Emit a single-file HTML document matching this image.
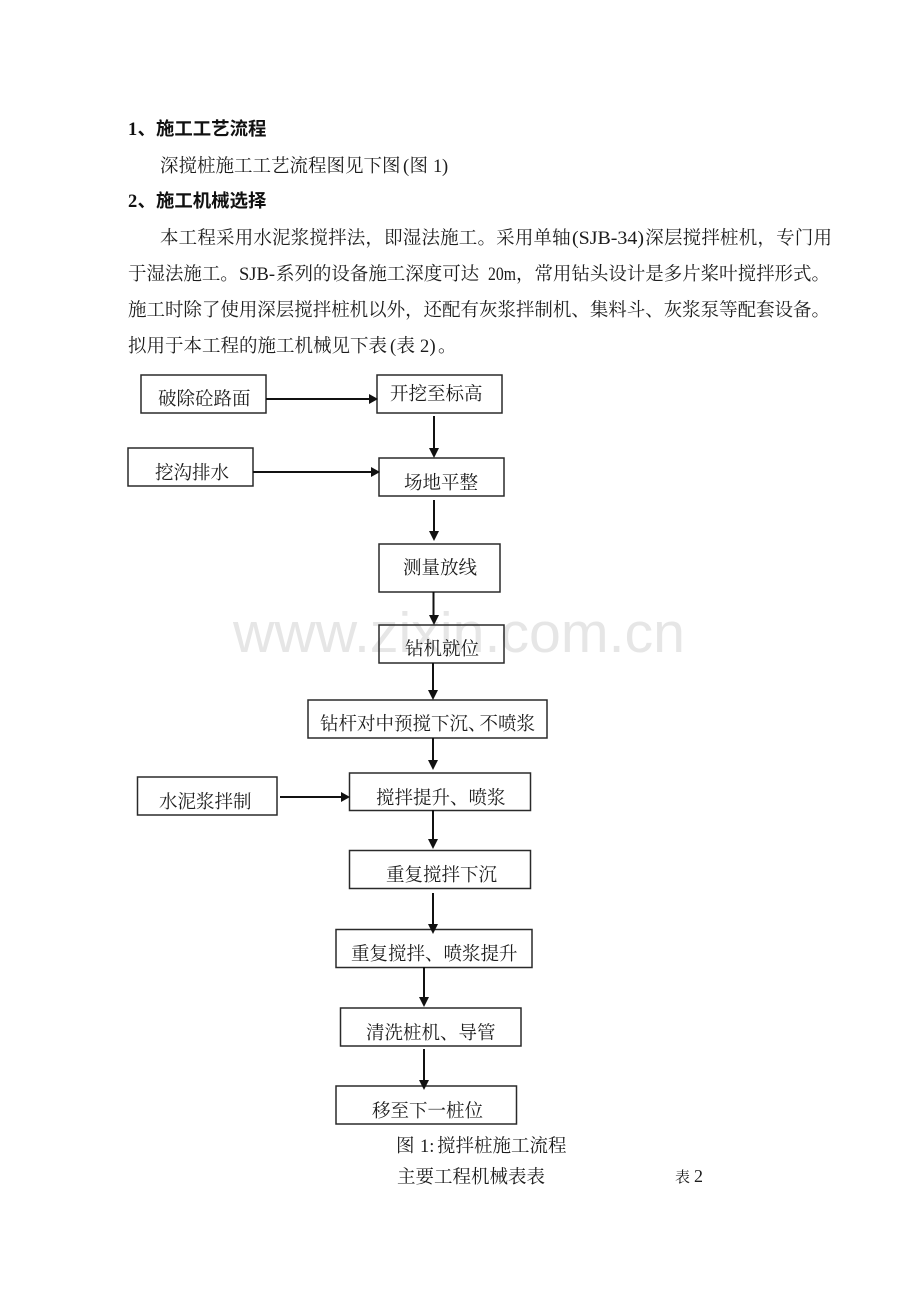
<!DOCTYPE html>
<html lang="zh">
<head>
<meta charset="utf-8">
<title>施工工艺流程</title>
<style>
html,body{margin:0;padding:0;background:#fff;width:920px;height:1302px;overflow:hidden}
svg{display:block}
.t{font-family:"Liberation Serif","Noto Serif CJK SC",serif;font-size:18.5px;fill:#1c1c1c}
.b{font-family:"Noto Sans CJK SC","Liberation Sans",sans-serif;font-weight:700;font-size:18.4px;fill:#111}
.d{font-family:"Liberation Serif",serif;font-weight:700;font-size:18.5px;fill:#111}
.box{fill:none;stroke:#2a2a2a;stroke-width:1.5}
.ln{stroke:#111;stroke-width:2;fill:none}
.ah{fill:#111}
</style>
</head>
<body>
<svg width="920" height="1302" viewBox="0 0 920 1302" xmlns="http://www.w3.org/2000/svg">
<rect width="920" height="1302" fill="#fff"/>
<text x="233" y="652" font-family="'Liberation Sans',sans-serif" font-size="57" fill="#e6e6e6" textLength="452" lengthAdjust="spacingAndGlyphs">www.zixin.com.cn</text>

<text class="d" x="128" y="135">1</text>
<text class="b" x="137.500" y="135">、</text>
<text class="b" x="156" y="135">施工工艺流程</text>
<text class="t" x="160" y="172">深搅桩施工工艺流程图见下图</text>
<text class="t" x="403" y="172">(</text>
<text class="t" x="409.500" y="172">图</text>
<text class="t" x="433" y="172">1</text>
<text class="t" x="442" y="172">)</text>
<text class="d" x="128" y="207">2</text>
<text class="b" x="137.500" y="207">、</text>
<text class="b" x="156" y="207">施工机械选择</text>

<text class="t" x="160" y="244" textLength="410.700" lengthAdjust="spacing">本工程采用水泥浆搅拌法&#65292;即湿法施工。采用单轴</text>
<text class="t" x="572" y="244" textLength="72" lengthAdjust="spacingAndGlyphs">(SJB-34)</text>
<text class="t" x="645.300" y="244" textLength="186.700" lengthAdjust="spacing">深层搅拌桩机&#65292;专门用</text>

<text class="t" x="128" y="280" textLength="110.800" lengthAdjust="spacing">于湿法施工。</text>
<text class="t" x="239" y="280" textLength="36" lengthAdjust="spacingAndGlyphs">SJB-</text>
<text class="t" x="276" y="280" textLength="203.200" lengthAdjust="spacing">系列的设备施工深度可达</text>
<text class="t" x="488" y="280" textLength="28" lengthAdjust="spacingAndGlyphs">20m</text>
<text class="t" x="516" y="280" textLength="314" lengthAdjust="spacing">&#65292;常用钻头设计是多片桨叶搅拌形式。</text>

<text class="t" x="128" y="316" textLength="702" lengthAdjust="spacing">施工时除了使用深层搅拌桩机以外&#65292;还配有灰浆拌制机、集料斗、灰浆泵等配套设备。</text>

<text class="t" x="128" y="352">拟用于本工程的施工机械见下表</text>
<text class="t" x="390" y="352">(</text>
<text class="t" x="396.500" y="352">表</text>
<text class="t" x="420" y="352">2</text>
<text class="t" x="429.500" y="352">)</text>
<text class="t" x="438" y="352">。</text>

<rect class="box" x="141" y="375" width="125" height="38"/>
<rect class="box" x="377" y="375" width="125" height="38"/>
<rect class="box" x="128" y="448" width="125" height="38"/>
<rect class="box" x="379" y="458" width="125" height="38"/>
<rect class="box" x="379" y="544" width="121" height="48"/>
<rect class="box" x="379" y="625" width="125" height="38"/>
<rect class="box" x="308" y="700" width="239" height="38"/>
<rect class="box" x="349.500" y="773" width="181" height="37.500"/>
<rect class="box" x="137.500" y="777" width="139.500" height="38"/>
<rect class="box" x="349.500" y="850.500" width="181" height="38"/>
<rect class="box" x="336" y="929.500" width="196" height="38"/>
<rect class="box" x="340.500" y="1008" width="180.500" height="38"/>
<rect class="box" x="336" y="1086" width="180.500" height="38"/>

<text class="t" x="158" y="405">破除砼路面</text>
<text class="t" x="390" y="400">开挖至标高</text>
<text class="t" x="155" y="479">挖沟排水</text>
<text class="t" x="404" y="489">场地平整</text>
<text class="t" x="403" y="574">测量放线</text>
<text class="t" x="405" y="655">钻机就位</text>
<text class="t" x="320" y="730">钻杆对中预搅下沉<tspan x="468">、</tspan><tspan x="479.500">不喷浆</tspan></text>
<text class="t" x="376" y="804">搅拌提升、喷浆</text>
<text class="t" x="159" y="808">水泥浆拌制</text>
<text class="t" x="386" y="881">重复搅拌下沉</text>
<text class="t" x="351" y="960">重复搅拌、喷浆提升</text>
<text class="t" x="366" y="1039">清洗桩机、导管</text>
<text class="t" x="372" y="1117">移至下一桩位</text>
<text class="t" x="396" y="1152">图<tspan x="420">1:</tspan><tspan x="437">搅拌桩施工流程</tspan></text>
<text class="t" x="397" y="1183">主要工程机械表表</text>
<text class="t" x="675" y="1182" style="font-size:15px">表</text>
<text class="t" x="694" y="1182" style="font-size:18px">2</text>

<!-- connectors -->
<path class="ln" d="M266 399H369"/><path class="ah" d="M378 399l-9-5v10z"/>
<path class="ln" d="M434 416V450"/><path class="ah" d="M434 458l-5-10h10z"/>
<path class="ln" d="M253 472H371"/><path class="ah" d="M380 472l-9-5v10z"/>
<path class="ln" d="M434 500V533"/><path class="ah" d="M434 541l-5-10h10z"/>
<path class="ln" d="M433.500 592V617"/><path class="ah" d="M434 625l-5-10h10z"/>
<path class="ln" d="M433 663V692"/><path class="ah" d="M433 700l-5-10h10z"/>
<path class="ln" d="M433 738V762"/><path class="ah" d="M433 770l-5-10h10z"/>
<path class="ln" d="M280 797H341"/><path class="ah" d="M350 797l-9-5v10z"/>
<path class="ln" d="M433 810V841"/><path class="ah" d="M433 849l-5-10h10z"/>
<path class="ln" d="M433 893V926"/><path class="ah" d="M433 934l-5-10h10z"/>
<path class="ln" d="M424 967V999"/><path class="ah" d="M424 1007l-5-10h10z"/>
<path class="ln" d="M424 1049V1082"/><path class="ah" d="M424 1090l-5-10h10z"/>
</svg>
</body>
</html>
